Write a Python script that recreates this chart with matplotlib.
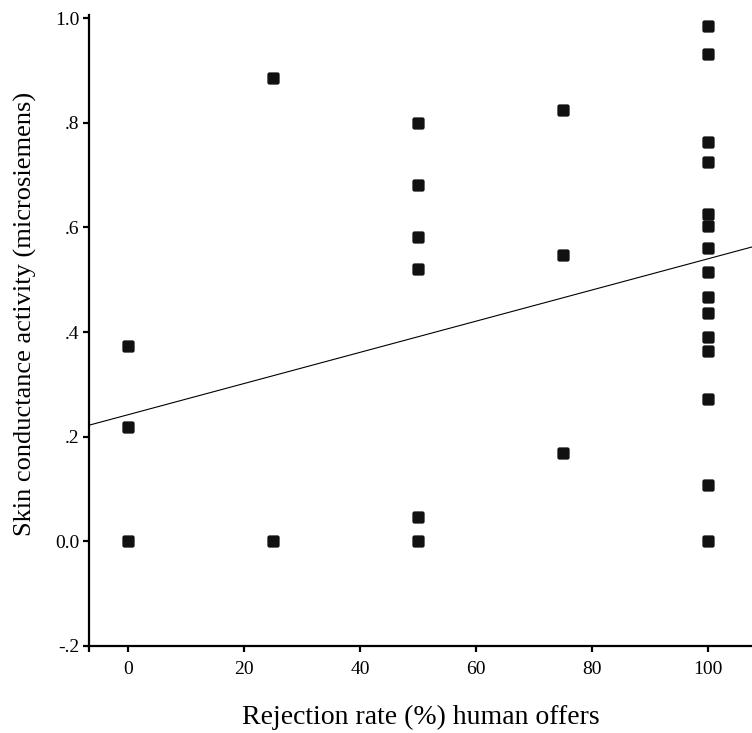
import numpy as np
import matplotlib
matplotlib.use("Agg")
import matplotlib.pyplot as plt
from matplotlib.path import Path

# values
rejection_rate = [0, 0, 0,
                  25, 25,
                  50, 50, 50, 50, 50, 50,
                  75, 75, 75,
                  100, 100, 100, 100, 100, 100, 100, 100, 100, 100, 100,
                  100, 100, 100, 100]
skin_conductance = [0.373, 0.218, 0.0,
                    0.885, 0.0,
                    0.799, 0.681, 0.581, 0.520, 0.046, 0.0,
                    0.824, 0.547, 0.168,
                    0.985, 0.931, 0.763, 0.725, 0.625, 0.602, 0.560, 0.514,
                    0.467, 0.436, 0.390, 0.363, 0.273, 0.107, 0.0]

# fitted line as drawn in the reference (includes overlapping cases)
fit_intercept = 0.242
fit_slope = 0.00298

x_ticks = [0, 20, 40, 60, 80, 100]
y_ticks = [-0.2, 0.0, 0.2, 0.4, 0.6, 0.8, 1.0]
y_tick_labels = ["-.2", "0.0", ".2", ".4", ".6", ".8", "1.0"]

x_min, x_max = -6.72, 107.6
y_min, y_max = -0.2, 1.006


def rounded_square(r=0.35):
    """Square marker with rounded corners"""
    verts = [(-1 + r, -1), (1 - r, -1), (1, -1), (1, -1 + r),
             (1, 1 - r), (1, 1), (1 - r, 1),
             (-1 + r, 1), (-1, 1), (-1, 1 - r),
             (-1, -1 + r), (-1, -1), (-1 + r, -1), (-1 + r, -1)]
    codes = [Path.MOVETO, Path.LINETO, Path.CURVE3, Path.CURVE3,
             Path.LINETO, Path.CURVE3, Path.CURVE3,
             Path.LINETO, Path.CURVE3, Path.CURVE3,
             Path.LINETO, Path.CURVE3, Path.CURVE3, Path.CLOSEPOLY]
    return Path(verts, codes)


plt.rcParams['font.family'] = ['Liberation Serif', 'DejaVu Serif']

fig = plt.figure(figsize=(7.52, 7.33), dpi=100)
ax = fig.add_axes([89 / 752, 87 / 733, 1 - 89 / 752, 631 / 733])

ax.scatter(rejection_rate, skin_conductance, marker=rounded_square(),
           s=78, color='#111111', linewidths=0, zorder=3)

xs = np.array([x_min, x_max])
ax.plot(xs, fit_intercept + fit_slope * xs, color='black', lw=0.8, zorder=2)

ax.set_xlim(x_min, x_max)
ax.set_ylim(y_min, y_max)

ax.set_xticks(x_ticks)
ax.set_xticks([x_min], minor=True)
ax.set_yticks(y_ticks)
ax.set_yticklabels(y_tick_labels)

for side in ['top', 'right']:
    ax.spines[side].set_visible(False)
for side in ['left', 'bottom']:
    ax.spines[side].set_linewidth(1.6)

ax.tick_params(axis='both', which='both', direction='out', length=4,
               width=1.6, labelsize=14)
ax.tick_params(axis='x', pad=7)
ax.tick_params(axis='y', pad=3)

ax.set_xlabel('Rejection rate (%) human offers', fontsize=20, labelpad=19)
ax.set_ylabel('Skin conductance activity (microsiemens)', fontsize=19,
              labelpad=13, y=0.526)

fig.savefig('out.png', dpi=100)
